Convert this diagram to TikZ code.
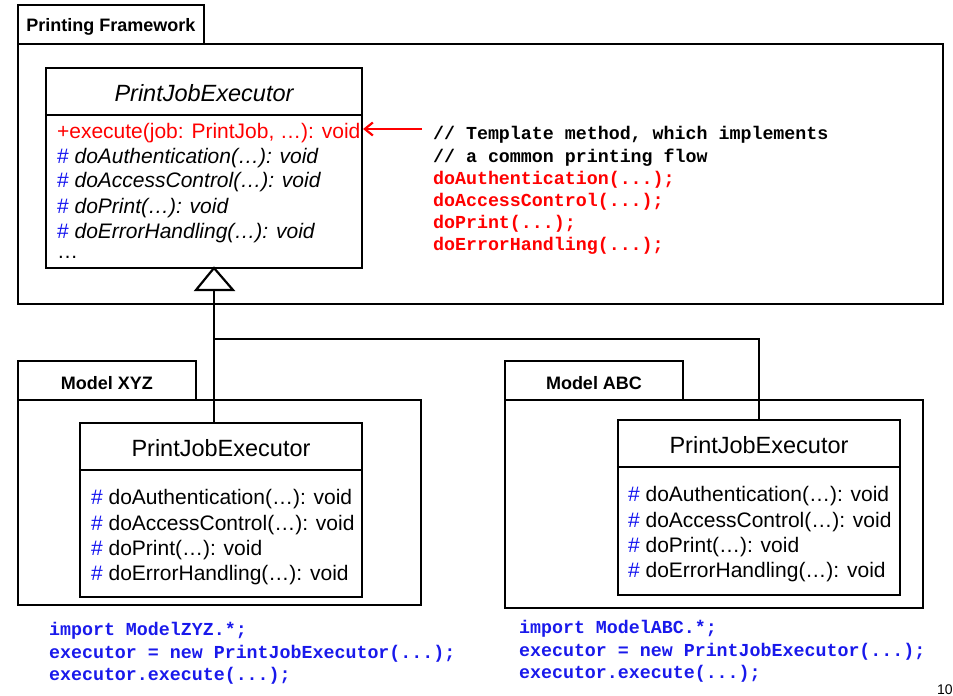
\documentclass[tikz,border=0pt]{standalone}
\usepackage{fontspec}
\setmainfont{Liberation Sans}
\newfontfamily\codefont{Liberation Mono}
\usetikzlibrary{arrows.meta,fit}

\definecolor{hashblue}{RGB}{20,20,240}
\definecolor{codeblue}{RGB}{25,25,235}

\begin{document}
\begin{tikzpicture}[x=1pt,y=-1pt,line width=2.2pt,
  box/.style={draw,inner sep=0pt,fill=white},
  tablabel/.style={inner sep=0pt,yshift=-2pt,font=\bfseries\fontsize{18}{20}\selectfont},
  classname/.style={inner sep=0pt,font=\fontsize{23.5}{26}\selectfont},
  meth/.style={anchor=west,inner sep=0pt,yshift=-2pt,font=\fontsize{21}{25}\selectfont},
  code/.style={anchor=west,inner sep=0pt,yshift=-2pt,font=\codefont\bfseries\fontsize{18.3}{22}\selectfont}
]
\useasboundingbox (0,0) rectangle (953,696);

% ---------- Printing Framework package ----------
\node[box,fit={(18,5) (204,44)}] (pfTab) {};
\node[box,fit={(18,44) (943,304)}] (pfFrame) {};
\node[tablabel] at (111,25) {Printing Framework};

% abstract executor class
\node[box,fit={(46,68) (362,268)}] (absCls) {};
\draw (absCls.west |- 0,115) -- (absCls.east |- 0,115);
\node[classname,font=\itshape\fontsize{23.5}{26}\selectfont] (absName) at (204,93) {PrintJobExecutor};
\node[meth,text=red] (mExec) at (56,131) {+execute(job: PrintJob, \ldots): void};
\node[meth] (mAuth) at (56,156) {\textcolor{hashblue}{\#} \textit{doAuthentication(\ldots): void}};
\node[meth] (mAcc)  at (56,180) {\textcolor{hashblue}{\#} \textit{doAccessControl(\ldots): void}};
\node[meth] (mPrt)  at (56,206) {\textcolor{hashblue}{\#} \textit{doPrint(\ldots): void}};
\node[meth] (mErr)  at (56,231) {\textcolor{hashblue}{\#} \textit{doErrorHandling(\ldots): void}};
\node[meth] (mMore) at (56,255) {\ldots};

% template method body
\node[code] (c1) at (432,133) {// Template method, which implements};
\node[code] (c2) at (432,156) {// a common printing flow};
\node[code,text=red] (c3) at (432,178) {doAuthentication(...);};
\node[code,text=red] (c4) at (432,200) {doAccessControl(...);};
\node[code,text=red] (c5) at (432,222) {doPrint(...);};
\node[code,text=red] (c6) at (432,244) {doErrorHandling(...);};

\coordinate (noteStart) at (422,129);
\draw[red,line width=2.4pt,-{Straight Barb[length=8pt,width=13pt,line width=2.2pt]}]
  (noteStart) -- (absCls.east |- noteStart);

% ---------- Model XYZ package ----------
\node[box,fit={(18,361) (196,400)}] (xyzTab) {};
\node[box,fit={(18,400) (421,605)}] (xyzFrame) {};
\node[tablabel] at (107,381) {Model XYZ};

\node[box,fit={(80,423) (362,597)}] (xyzCls) {};
\draw (xyzCls.west |- 0,470) -- (xyzCls.east |- 0,470);
\node[classname] (xyzName) at (221,448) {PrintJobExecutor};
\node[meth] (xA) at (90,497) {\textcolor{hashblue}{\#} doAuthentication(\ldots): void};
\node[meth] (xB) at (90,523) {\textcolor{hashblue}{\#} doAccessControl(\ldots): void};
\node[meth] (xC) at (90,548) {\textcolor{hashblue}{\#} doPrint(\ldots): void};
\node[meth] (xD) at (90,573) {\textcolor{hashblue}{\#} doErrorHandling(\ldots): void};

\node[code,text=codeblue] (xc1) at (48,629) {import ModelZYZ.*;};
\node[code,text=codeblue] (xc2) at (48,652) {executor = new PrintJobExecutor(...);};
\node[code,text=codeblue] (xc3) at (48,674) {executor.execute(...);};

% ---------- Model ABC package ----------
\node[box,fit={(505,361) (683,400)}] (abcTab) {};
\node[box,fit={(505,400) (923,608)}] (abcFrame) {};
\node[tablabel] at (594,381) {Model ABC};

\node[box,fit={(618,420) (900,595)}] (abcCls) {};
\draw (abcCls.west |- 0,467) -- (abcCls.east |- 0,467);
\node[classname] (abcName) at (759,445) {PrintJobExecutor};
\node[meth] (aA) at (627,494) {\textcolor{hashblue}{\#} doAuthentication(\ldots): void};
\node[meth] (aB) at (627,520) {\textcolor{hashblue}{\#} doAccessControl(\ldots): void};
\node[meth] (aC) at (627,545) {\textcolor{hashblue}{\#} doPrint(\ldots): void};
\node[meth] (aD) at (627,570) {\textcolor{hashblue}{\#} doErrorHandling(\ldots): void};

\node[code,text=codeblue] (ac1) at (518,627) {import ModelABC.*;};
\node[code,text=codeblue] (ac2) at (518,650) {executor = new PrintJobExecutor(...);};
\node[code,text=codeblue] (ac3) at (518,672) {executor.execute(...);};

% ---------- generalization ----------
\coordinate (triTip) at (214,268);
\coordinate (triL) at (196,290);
\coordinate (triR) at (233,290);
\coordinate (triBase) at (214,290);
\coordinate (branch) at (214,339);
\draw[fill=white,line join=miter] (triTip) -- (triL) -- (triR) -- cycle;
\draw (triBase) -- (triBase |- xyzCls.north);
\draw (branch) -- (abcCls.north |- branch) -- (abcCls.north);

% page number
\node[anchor=north west,inner sep=0pt,font=\fontsize{14}{16}\selectfont] at (936,684) {10};
\end{tikzpicture}
\end{document}
